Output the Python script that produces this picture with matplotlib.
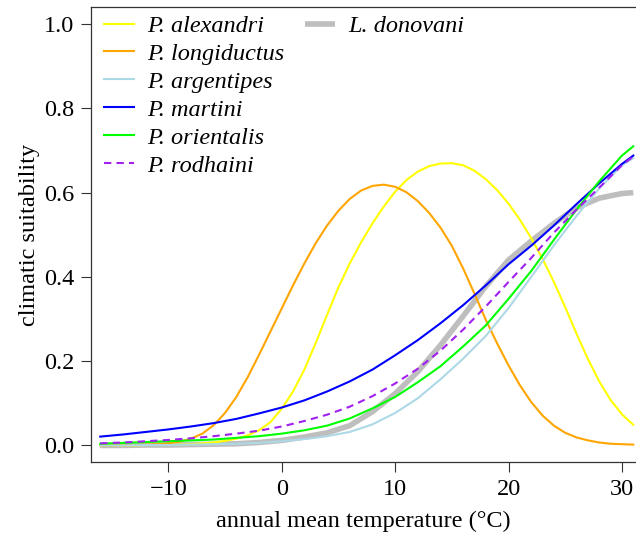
import matplotlib
matplotlib.use('Agg')
import matplotlib.pyplot as plt
import numpy as np

plt.rcParams['font.family'] = ['Liberation Serif', 'DejaVu Serif']

# temperature grids (degrees C)
x_peak = list(range(-16, 32))
x_sig = list(range(-16, 31, 2)) + [31]

# values
alexandri = [0.000, 0.000, 0.000, 0.000, 0.001, 0.001, 0.001, 0.002, 0.003, 0.005,
             0.007, 0.011, 0.016, 0.024, 0.036, 0.055, 0.087, 0.128, 0.180, 0.243,
             0.310, 0.375, 0.432, 0.482, 0.527, 0.567, 0.602, 0.630, 0.650, 0.663,
             0.669, 0.670, 0.665, 0.652, 0.632, 0.606, 0.574, 0.536, 0.492, 0.443,
             0.388, 0.328, 0.265, 0.205, 0.152, 0.108, 0.074, 0.049]
longiductus = [0.000, 0.000, 0.001, 0.001, 0.002, 0.003, 0.005, 0.009, 0.016, 0.028,
               0.048, 0.077, 0.115, 0.162, 0.215, 0.270, 0.325, 0.380, 0.432, 0.480,
               0.522, 0.557, 0.585, 0.605, 0.616, 0.619, 0.614, 0.601, 0.580, 0.552,
               0.517, 0.474, 0.420, 0.360, 0.298, 0.242, 0.190, 0.143, 0.103, 0.071,
               0.047, 0.030, 0.019, 0.012, 0.007, 0.004, 0.003, 0.002]
argentipes = [0.000, 0.000, 0.001, 0.001, 0.002, 0.003, 0.004, 0.006, 0.010, 0.015,
              0.022, 0.032, 0.050, 0.077, 0.112, 0.157, 0.206, 0.260, 0.326, 0.400,
              0.475, 0.545, 0.610, 0.665, 0.682]
martini = [0.021, 0.026, 0.032, 0.038, 0.045, 0.053, 0.063, 0.076, 0.090, 0.107,
           0.128, 0.152, 0.180, 0.214, 0.250, 0.290, 0.333, 0.380, 0.430, 0.474,
           0.522, 0.573, 0.622, 0.668, 0.688]
orientalis = [0.004, 0.006, 0.008, 0.010, 0.012, 0.014, 0.018, 0.022, 0.028, 0.036,
              0.047, 0.064, 0.088, 0.115, 0.150, 0.188, 0.235, 0.285, 0.348, 0.414,
              0.488, 0.560, 0.627, 0.688, 0.710]
rodhaini = [0.005, 0.007, 0.010, 0.013, 0.017, 0.022, 0.028, 0.035, 0.045, 0.058,
            0.073, 0.092, 0.117, 0.147, 0.182, 0.225, 0.275, 0.330, 0.388, 0.445,
            0.505, 0.560, 0.612, 0.665, 0.686]
donovani = [0.000, 0.000, 0.001, 0.001, 0.002, 0.003, 0.004, 0.007, 0.012, 0.020,
            0.030, 0.047, 0.080, 0.123, 0.175, 0.238, 0.307, 0.378, 0.440, 0.485,
            0.527, 0.564, 0.587, 0.598, 0.600]

x_ticks = [-10, 0, 10, 20, 30]
y_ticks = [0.0, 0.2, 0.4, 0.6, 0.8, 1.0]

fs = 17.5
fig = plt.figure(figsize=(6.36, 5.39), dpi=100)
ax = fig.add_axes([0.1426, 0.1423, 0.8574, 0.8442])

l_don, = ax.plot(x_sig, donovani, color='#BEBEBE', linewidth=4, solid_capstyle='butt')
l_ale, = ax.plot(x_peak, alexandri, color='#FFFF00', linewidth=1.5)
l_lon, = ax.plot(x_peak, longiductus, color='#FFA500', linewidth=1.5)
l_arg, = ax.plot(x_sig, argentipes, color='#ADD8E6', linewidth=1.5)
l_mar, = ax.plot(x_sig, martini, color='#0000FF', linewidth=1.5)
l_ori, = ax.plot(x_sig, orientalis, color='#00FF00', linewidth=1.5)
l_rod, = ax.plot(x_sig, rodhaini, color='#A020F0', linewidth=1.5, linestyle=(0, (3.5, 2.5)))

ax.set_xlim(-16.84, 31.24)
ax.set_ylim(-0.04, 1.04)
ax.set_xticks(x_ticks)
ax.set_xticklabels(['\u221210', '0', '10', '20', '30'])
ax.set_yticks(y_ticks)
ax.set_yticklabels([f'{v:.1f}' for v in y_ticks])
ax.tick_params(direction='out', length=7, width=0.8, color='#333333', labelsize=fs, pad=5)
for side in ['left', 'top', 'bottom']:
    ax.spines[side].set_color('#333333')
    ax.spines[side].set_linewidth(0.9)
ax.spines['right'].set_visible(False)

ax.set_xlabel('annual mean temperature (\u00b0C)', fontsize=fs, labelpad=8)
ax.set_ylabel('climatic suitability', fontsize=fs, labelpad=2.5)

leg1 = ax.legend([l_ale, l_lon, l_arg, l_mar, l_ori, l_rod],
                 ['P. alexandri', 'P. longiductus', 'P. argentipes', 'P. martini',
                  'P. orientalis', 'P. rodhaini'],
                 loc='upper left', bbox_to_anchor=(0.0244, 0.983), frameon=False,
                 prop={'style': 'italic', 'size': fs}, handlelength=1.23,
                 handletextpad=0.54, labelspacing=0.245, borderpad=0, borderaxespad=0)
ax.add_artist(leg1)
ax.legend([l_don], ['L. donovani'], loc='upper left', bbox_to_anchor=(0.393, 0.983),
          frameon=False, prop={'style': 'italic', 'size': fs}, handlelength=1.23,
          handletextpad=0.54, borderpad=0, borderaxespad=0)

plt.savefig('out.png', dpi=100)
plt.close()
